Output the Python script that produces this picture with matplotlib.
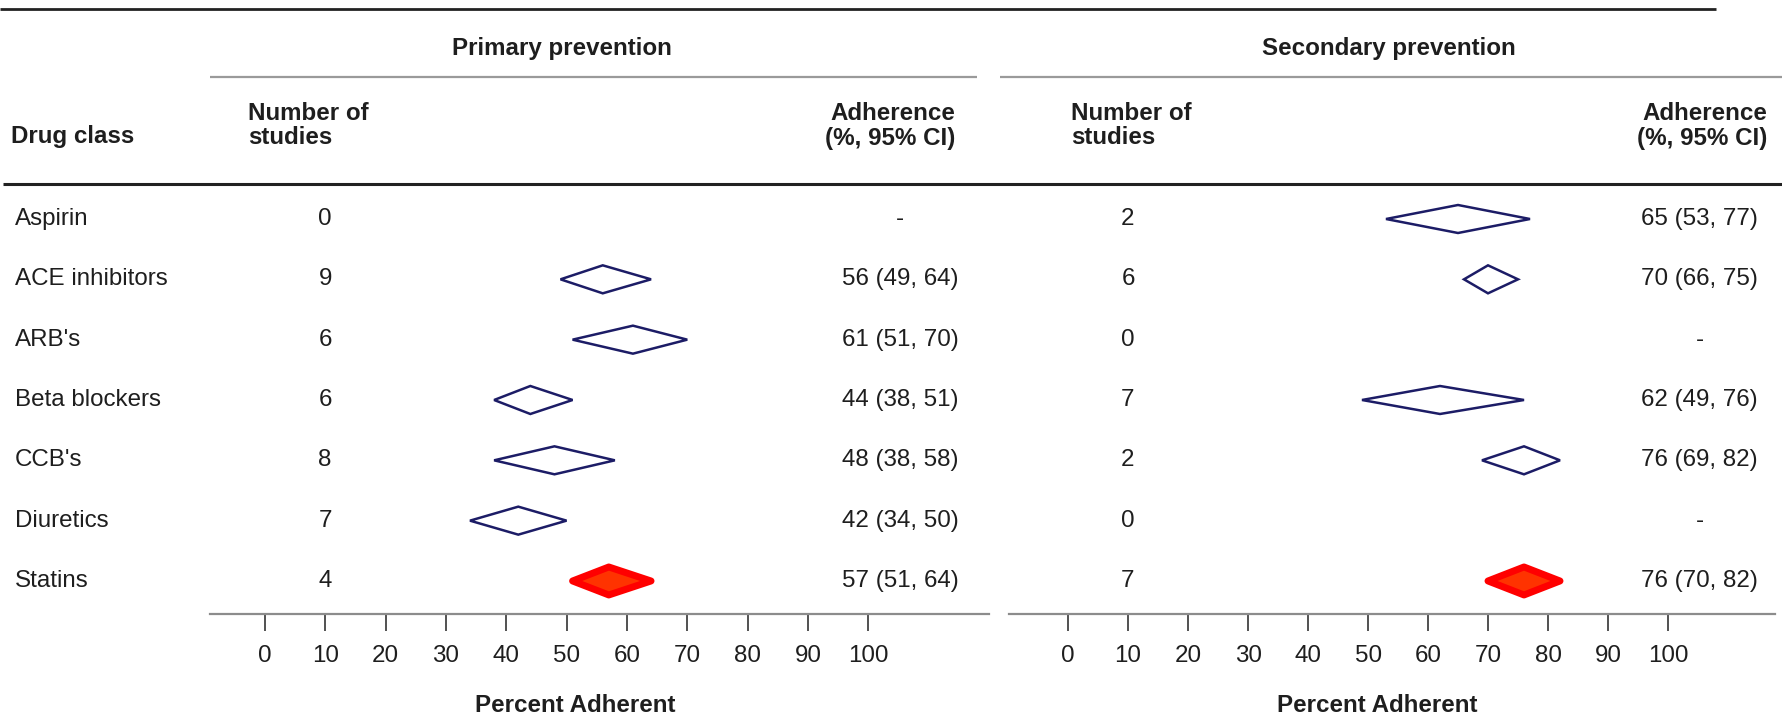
import matplotlib.pyplot as plt
from matplotlib.patches import Polygon
from matplotlib.transforms import blended_transform_factory

drug_classes = ["Aspirin", "ACE inhibitors", "ARB's", "Beta blockers",
                "CCB's", "Diuretics", "Statins"]

primary_studies = [0, 9, 6, 6, 8, 7, 4]
primary_estimate = [None, 56, 61, 44, 48, 42, 57]
primary_lower = [None, 49, 51, 38, 38, 34, 51]
primary_upper = [None, 64, 70, 51, 58, 50, 64]

secondary_studies = [2, 6, 0, 7, 2, 0, 7]
secondary_estimate = [65, 70, None, 62, 76, None, 76]
secondary_lower = [53, 66, None, 49, 69, None, 70]
secondary_upper = [77, 75, None, 76, 82, None, 82]

highlight_class = "Statins"
tick_values = list(range(0, 101, 10))

# canvas size in pixels, layout below is given in pixels from the top-left
W, H = 1782, 720
ROW0_PX, ROW_STEP_PX = 219, 60.33
PANEL_TOP_PX, AXIS_PX = 190, 614
FS = 17.4
TEXT_COLOR = "#1e1e1e"
EDGE_BLUE = "#1c1c66"

plt.rcParams["font.family"] = ["Liberation Sans", "DejaVu Sans"]
plt.rcParams["text.color"] = TEXT_COLOR

fig = plt.figure(figsize=(W / 100, H / 100), dpi=100)

frame = fig.add_axes([0, 0, 1, 1])
frame.set_xlim(0, W)
frame.set_ylim(H, 0)
frame.axis("off")

# table rules
frame.plot([0, 1716], [9, 9], color="#222222", lw=2.0, solid_capstyle="butt")
frame.plot([210, 977], [77, 77], color="#9a9a9a", lw=1.6, solid_capstyle="butt")
frame.plot([1000, W], [77, 77], color="#9a9a9a", lw=1.6, solid_capstyle="butt")
frame.plot([3, W], [184, 184], color="#222222", lw=2.2, solid_capstyle="butt")

# header text
bold = dict(fontsize=FS, fontweight="bold", va="center")
frame.text(562, 48, "Primary prevention", ha="center", **bold)
frame.text(1389, 48, "Secondary prevention", ha="center", **bold)
frame.text(11, 136, "Drug class", ha="left", **bold)
for x in (248, 1071):
    frame.text(x, 113, "Number of", ha="left", **bold)
    frame.text(x, 138, "studies", ha="left", **bold)
for x in (955, 1767):
    frame.text(x, 113, "Adherence", ha="right", **bold)
    frame.text(x, 138, "(%, 95% CI)", ha="right", **bold)


def add_panel(left_px, right_px, zero_px, unit_px):
    ax = fig.add_axes([left_px / W, 1 - AXIS_PX / H,
                       (right_px - left_px) / W, (AXIS_PX - PANEL_TOP_PX) / H])
    ax.set_facecolor("none")
    ax.set_xlim((left_px - zero_px) / unit_px, (right_px - zero_px) / unit_px)
    ax.set_ylim((AXIS_PX - ROW0_PX) / ROW_STEP_PX,
                (PANEL_TOP_PX - ROW0_PX) / ROW_STEP_PX)
    for side in ("top", "left", "right"):
        ax.spines[side].set_visible(False)
    ax.spines["bottom"].set_color("#8c8c8c")
    ax.spines["bottom"].set_linewidth(1.6)
    ax.set_yticks([])
    ax.set_xticks(tick_values)
    ax.tick_params(axis="x", length=12, width=1.2, color="#333333", pad=10,
                   labelsize=FS, labelcolor=TEXT_COLOR)
    return ax


def draw_panel(ax, studies, estimate, lower, upper):
    half = 14 / ROW_STEP_PX
    for i, name in enumerate(drug_classes):
        ax.text(10, i, str(studies[i]), ha="center", va="center", fontsize=FS,
                clip_on=False)
        if estimate[i] is None:
            ax.text(105.3, i, "-", ha="center", va="center", fontsize=FS,
                    clip_on=False)
            continue
        label = f"{estimate[i]} ({lower[i]}, {upper[i]})"
        ax.text(105.3, i, label, ha="center", va="center", fontsize=FS,
                clip_on=False)
        verts = [(lower[i], i), (estimate[i], i - half),
                 (upper[i], i), (estimate[i], i + half)]
        if name == highlight_class:
            patch = Polygon(verts, closed=True, facecolor="#ff3300",
                            edgecolor="#ff0000", lw=5.0, joinstyle="round")
        else:
            patch = Polygon(verts, closed=True, facecolor="white",
                            edgecolor=EDGE_BLUE, lw=1.8, joinstyle="miter")
        ax.add_patch(patch)
    lab_tr = blended_transform_factory(ax.transData, frame.transData)
    ax.text(51.5, 705, "Percent Adherent", transform=lab_tr, ha="center",
            va="center", fontsize=FS, fontweight="bold", clip_on=False)


ax_primary = add_panel(210, 989, 264.8, 6.035)
ax_secondary = add_panel(1009, 1775, 1068, 6.0)

draw_panel(ax_primary, primary_studies, primary_estimate,
           primary_lower, primary_upper)
draw_panel(ax_secondary, secondary_studies, secondary_estimate,
           secondary_lower, secondary_upper)

# drug class names down the left edge
name_tr = blended_transform_factory(frame.transData, ax_primary.transData)
for i, name in enumerate(drug_classes):
    ax_primary.text(15, i, name, transform=name_tr, ha="left", va="center",
                    fontsize=FS, clip_on=False)

fig.savefig("out.png", dpi=100)
